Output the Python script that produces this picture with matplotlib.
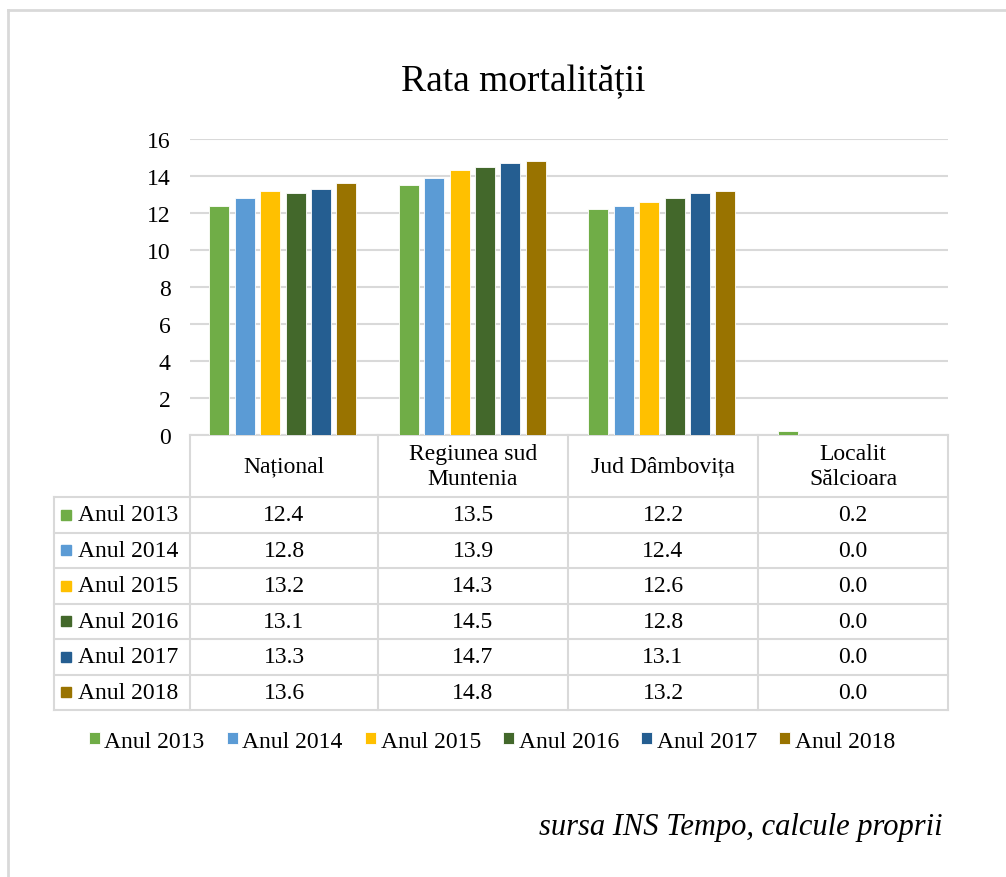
import numpy as np
import matplotlib
matplotlib.use("Agg")
import matplotlib.pyplot as plt
from matplotlib.patches import Rectangle
from matplotlib.lines import Line2D

plt.rcParams['font.family'] = ['Liberation Serif', 'DejaVu Serif']

# Date
regions = ["Național", "Regiunea sud\nMuntenia", "Jud Dâmbovița", "Localit\nSălcioara"]
years = ["Anul 2013", "Anul 2014", "Anul 2015", "Anul 2016", "Anul 2017", "Anul 2018"]
rate_2013 = [12.4, 13.5, 12.2, 0.2]
rate_2014 = [12.8, 13.9, 12.4, 0.0]
rate_2015 = [13.2, 14.3, 12.6, 0.0]
rate_2016 = [13.1, 14.5, 12.8, 0.0]
rate_2017 = [13.3, 14.7, 13.1, 0.0]
rate_2018 = [13.6, 14.8, 13.2, 0.0]
series = [rate_2013, rate_2014, rate_2015, rate_2016, rate_2017, rate_2018]
colors = ["#70AD47", "#5B9BD5", "#FFC000", "#43682B", "#255E91", "#997300"]
yticks = [0, 2, 4, 6, 8, 10, 12, 14, 16]

W, H = 1006, 878
FS = 17
GRID = "#d9d9d9"


def fx(px):
    return px / W


def fy(py):
    return 1 - py / H


fig = plt.figure(figsize=(W / 100, H / 100), dpi=100)

# chenar exterior
fig.add_artist(Line2D([fx(8), 1], [fy(11), fy(11)], color=GRID, lw=2))
fig.add_artist(Line2D([fx(8), fx(8)], [fy(11), 0], color=GRID, lw=2))

ax_left, ax_right, ax_top, ax_bottom = 190, 948, 140, 436
ax = fig.add_axes([fx(ax_left), fy(ax_bottom), fx(ax_right - ax_left), (ax_bottom - ax_top) / H])

x = np.arange(len(regions))
step = 0.134
width = 0.106
handles = []
for i, (vals, col, lab) in enumerate(zip(series, colors, years)):
    b = ax.bar(x + (i - 2.5) * step - 0.01, vals, width, color=col, label=lab,
               edgecolor="white", linewidth=0.6, zorder=3)
    handles.append(b)

ax.set_xlim(-0.5, len(regions) - 0.5)
ax.set_ylim(0, 16)
ax.set_yticks(yticks)
ax.set_yticklabels([str(t) for t in yticks], fontsize=FS)
ax.tick_params(axis="y", length=0, pad=14)
ax.set_xticks([])
ax.grid(axis="y", color=GRID, lw=1.5, zorder=0)
for s in ["top", "right", "left"]:
    ax.spines[s].set_visible(False)
ax.spines["bottom"].set_color(GRID)
ax.spines["bottom"].set_linewidth(1.5)

# tabel de date
col_edges = [190, 378, 568, 758, 948]
label_left = 54
header_bottom = 498
row_h = 35.5
row_edges = [header_bottom + k * row_h for k in range(len(years) + 1)]

for cx in col_edges:
    fig.add_artist(Line2D([fx(cx), fx(cx)], [fy(ax_bottom), fy(row_edges[-1])], color=GRID, lw=1.5))
fig.add_artist(Line2D([fx(label_left), fx(label_left)], [fy(header_bottom), fy(row_edges[-1])], color=GRID, lw=1.5))
for ry in row_edges:
    fig.add_artist(Line2D([fx(label_left), fx(col_edges[-1])], [fy(ry), fy(ry)], color=GRID, lw=1.5))

for j, reg in enumerate(regions):
    cx = (col_edges[j] + col_edges[j + 1]) / 2
    fig.text(fx(cx), fy((ax_bottom + header_bottom) / 2), reg, ha="center", va="center",
             fontsize=FS, linespacing=1.25)

for i, (vals, col, lab) in enumerate(zip(series, colors, years)):
    cy = (row_edges[i] + row_edges[i + 1]) / 2
    fig.add_artist(Rectangle((fx(61), fy(cy + 5)), fx(10), 10 / H, color=col,
                             transform=fig.transFigure))
    fig.text(fx(78), fy(cy), lab, ha="left", va="center", fontsize=FS)
    for j, v in enumerate(vals):
        cx = (col_edges[j] + col_edges[j + 1]) / 2
        fig.text(fx(cx), fy(cy), f"{v:.1f}", ha="center", va="center", fontsize=FS)

fig.text(fx(523), fy(82), "Rata mortalității", ha="center", va="center", fontsize=27)

fig.legend(handles=handles, labels=years, loc="center", bbox_to_anchor=(fx(492), fy(742)),
           ncol=6, frameon=False, fontsize=FS, handlelength=0.45, handleheight=0.45,
           handletextpad=0.2, columnspacing=0.95, borderpad=0)

fig.text(fx(943), fy(828), "sursa INS Tempo, calcule proprii", ha="right", va="center",
         fontsize=22, style="italic")

fig.savefig("out.png", dpi=100)
